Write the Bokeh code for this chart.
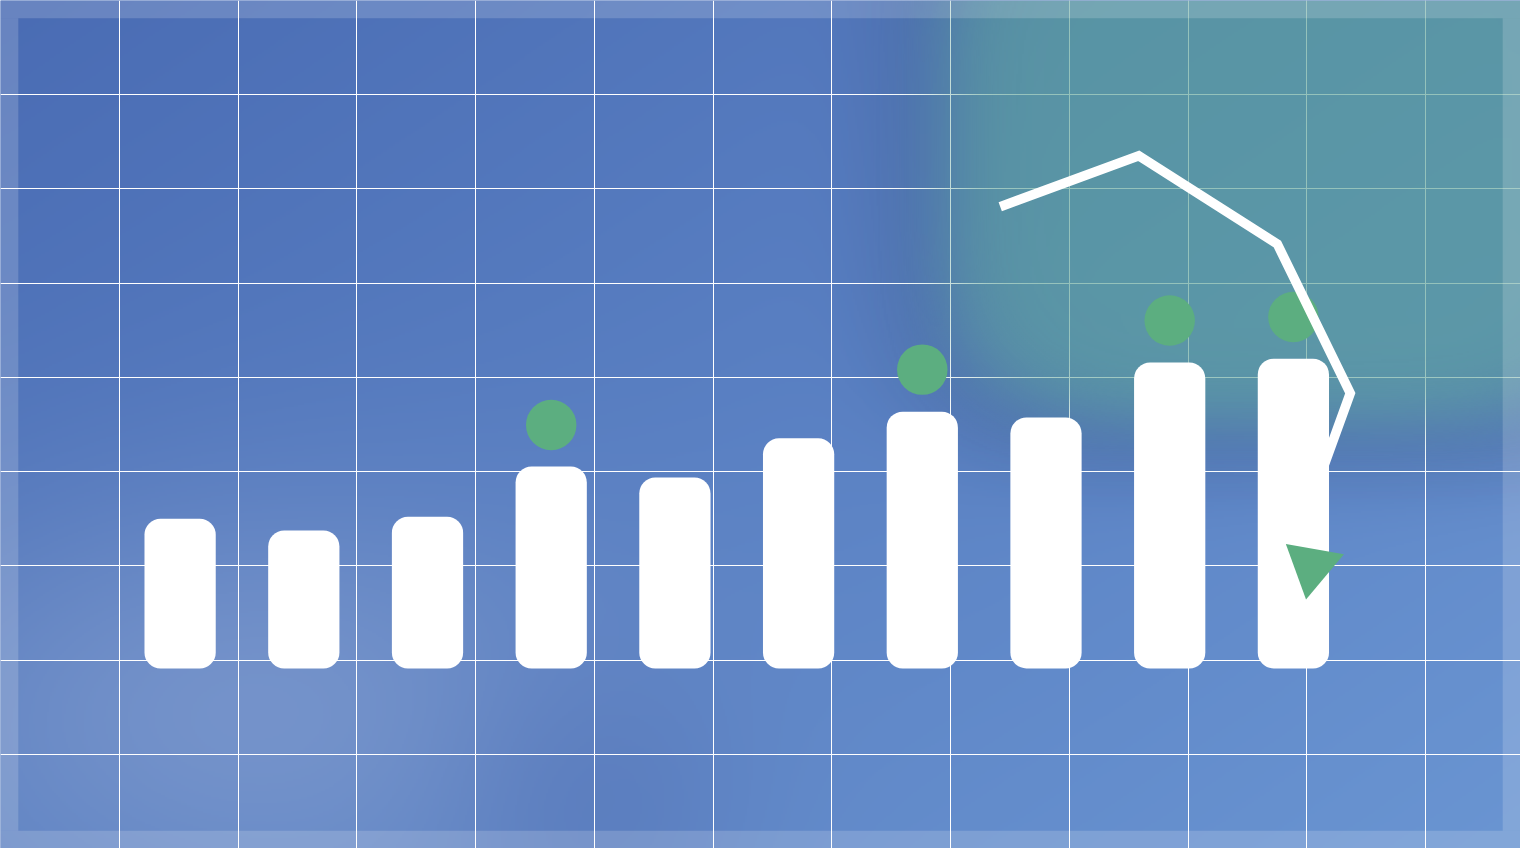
import numpy as np
from bokeh.plotting import figure
from bokeh.models import Range1d, FixedTicker, ColumnDataSource
from bokeh.embed import file_html
from bokeh.resources import INLINE

# ---------------- data ----------------
categories = [1, 2, 3, 4, 5, 6, 7, 8, 9, 10]
bar_values = [38.1, 35.1, 38.6, 51.4, 48.6, 58.6, 65.4, 63.9, 77.9, 78.9]
dot_categories = [4, 7, 9, 10]
dot_values = [62.0, 76.1, 88.6, 89.5]
line_x = [7.63, 8.75, 9.87, 10.46, 10.23]
line_y = [117.6, 130.6, 108.1, 70.1, 50.1]
marker_x = [10.15]
marker_y = [26.1]

# ---------------- layout ----------------
W, H = 1520, 848
REF_W, REF_H = 1536, 864
PX_X = 125.0   # reference px per category unit
PX_Y = 4.0     # reference px per value unit
x0 = 1 - 181.5 / PX_X
x1 = x0 + REF_W / PX_X
y1 = 680.5 / PX_Y
y0 = y1 - REF_H / PX_Y
sx = W / REF_W

p = figure(width=W, height=H, x_range=Range1d(x0, x1), y_range=Range1d(y0, y1),
           output_backend="svg", toolbar_location=None, min_border=0,
           x_axis_location=None, y_axis_location=None)
p.outline_line_color = None
p.background_fill_color = "#5a7fc3"
p.border_fill_color = "#5a7fc3"

# ---------------- background ----------------
hw, hh = 768, 432
xs = (np.arange(hw) + 0.5) * REF_W / hw
ys = (np.arange(hh) + 0.5) * REF_H / hh
X, Y = np.meshgrid(xs, ys)

t = 0.55 * X / REF_W + 0.45 * Y / REF_H
c0 = np.array([74, 108, 180.0])
c1 = np.array([106, 149, 210.0])
img = c0[None, None, :] + t[..., None] * (c1 - c0)[None, None, :]


def blend(im, color, a):
    return im * (1 - a[..., None]) + np.array(color, dtype=float)[None, None, :] * a[..., None]


img = blend(img, (135, 160, 208), 0.6 * np.exp(-0.5 * (((X - 250) / 260) ** 2 + ((Y - 720) / 150) ** 2)))
img = blend(img, (75, 105, 175), 0.35 * np.exp(-0.5 * (((X - 600) / 110) ** 2 + ((Y - 820) / 120) ** 2)))
d = ((np.abs(X - 1300) / 365) ** 4 + (np.abs(Y - 150) / 295) ** 4) ** 0.25
img = blend(img, (68, 98, 160), 0.42 * np.exp(-((d - 1.0) / 0.2) ** 2))
teal_alpha = 0.65 / (1 + np.exp((d - 0.95) / 0.06))


def to_rgba(rgb, alpha):
    arr = np.empty((hh, hw, 4), dtype=np.uint8)
    arr[..., :3] = np.clip(rgb, 0, 255).astype(np.uint8)
    arr[..., 3] = np.clip(alpha * 255, 0, 255).astype(np.uint8)
    arr = np.ascontiguousarray(np.flipud(arr))
    return arr.view(np.uint32).reshape(hh, hw)


base = to_rgba(img, np.ones((hh, hw)))
teal_rgb = np.zeros((hh, hw, 3)) + np.array([90, 160, 150.0])
overlay = to_rgba(teal_rgb, teal_alpha)

p.image_rgba(image=[base], x=x0, y=y0, dw=x1 - x0, dh=y1 - y0, level="image")

# grid
gx = [1 + (120 * k - 181.5) / PX_X for k in range(1, 13)]
gy = [(680.5 - 96 * k) / PX_Y for k in range(1, 9)]
p.xgrid.ticker = FixedTicker(ticks=gx)
p.ygrid.ticker = FixedTicker(ticks=gy)
for g in (p.xgrid, p.ygrid):
    g.grid_line_color = "white"
    g.grid_line_width = 1
    g.grid_line_alpha = 1.0

p.image_rgba(image=[overlay], x=x0, y=y0, dw=x1 - x0, dh=y1 - y0)

# light frame
bx = 18 / PX_X
by = 18 / PX_Y
p.quad(left=[x0, x0, x0, x1 - bx], right=[x1, x1, x0 + bx, x1],
       bottom=[y1 - by, y0, y0 + by, y0 + by], top=[y1, y0 + by, y1 - by, y1 - by],
       fill_color="white", fill_alpha=0.17, line_color=None)

# ---------------- marks ----------------
green = "#5cae80"
dots = ColumnDataSource(dict(x=dot_categories, y=dot_values))
p.scatter("x", "y", source=dots, size=51 * sx, fill_color=green, line_color=None)

p.line(line_x, line_y, line_color="white", line_width=9.5, line_join="miter", line_cap="butt")

bars = ColumnDataSource(dict(x=categories, top=bar_values))
p.vbar(x="x", top="top", bottom=0, width=0.576, source=bars,
       fill_color="white", line_color=None, border_radius=16)

p.scatter(marker_x, marker_y, marker="triangle", size=59, angle=170, angle_units="deg",
          fill_color=green, line_color=None)

open("out.html", "w").write(file_html(p, INLINE))
